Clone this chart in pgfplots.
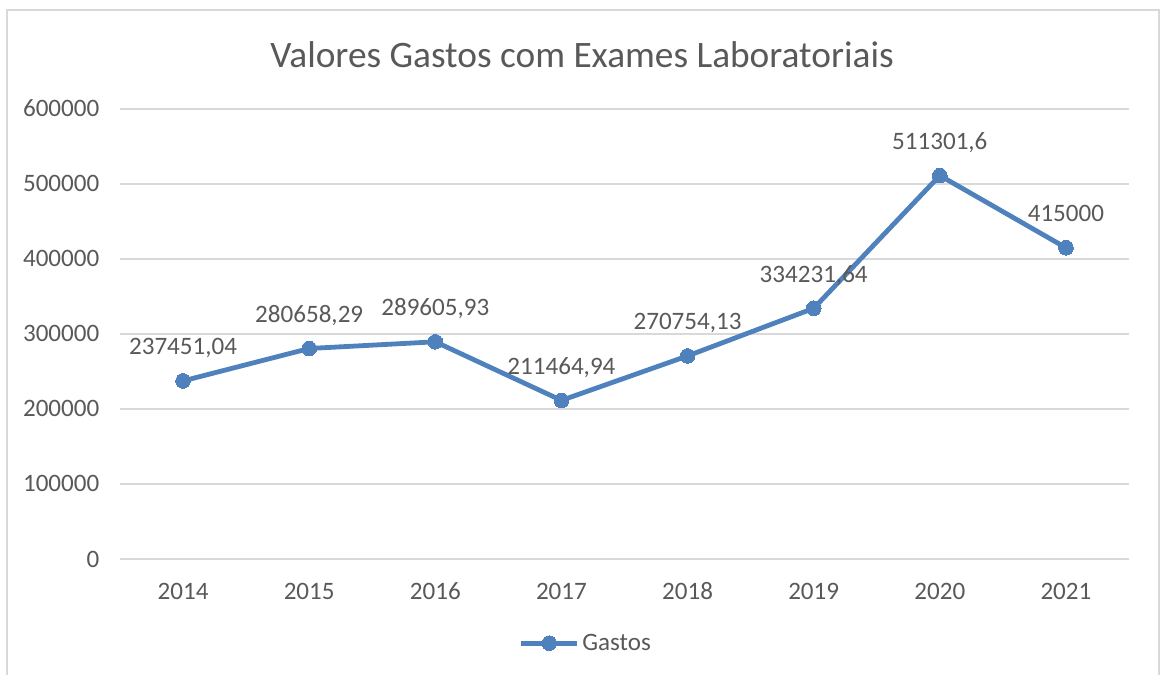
\documentclass[border=0pt]{standalone}
\usepackage{pgfplots}
\pgfplotsset{compat=1.18}
\usepackage{pgfplotstable}
\usepackage{fontspec}
\setmainfont{Carlito}
\definecolor{txt}{HTML}{595959}
\definecolor{gridc}{HTML}{D9D9D9}
\definecolor{linec}{HTML}{4F81BD}
\pgfplotstableread{
x y lab
0 237451.04 237451,04
1 280658.29 280658,29
2 289605.93 289605,93
3 211464.94 211464,94
4 270754.13 270754,13
5 334231.64 334231,64
6 511301.6 511301,6
7 415000 415000
}\gastos
\begin{document}
\begin{tikzpicture}
\path[use as bounding box] (0,0) rectangle (874.5pt,505.5pt);
\draw[gridc, line width=1.2pt] (7*0.75pt,-2pt) -- (7*0.75pt,664*0.75pt) -- (1159*0.75pt,664*0.75pt) -- (1159*0.75pt,-2pt);
\node[txt, font=\fontsize{28}{30}\selectfont] at (582*0.75pt, 619*0.75pt) {Valores Gastos com Exames Laboratoriais};
\begin{axis}[
  at={(90pt,86.25pt)}, anchor=south west,
  scale only axis, width=756.75pt, height=337.5pt,
  xmin=-0.5, xmax=7.5, ymin=0, ymax=600000,
  xtick={0,...,7}, xticklabels={2014,2015,2016,2017,2018,2019,2020,2021},
  ytick={0,100000,...,600000},
  scaled y ticks=false,
  yticklabel={\pgfmathprintnumber[fixed,1000 sep={}]{\tick}},
  /pgf/number format/assume math mode=true,
  axis line style={draw=none},
  major tick length=0pt,
  xmajorgrids=false, ymajorgrids=true,
  y grid style={gridc, line width=1.2pt},
  tick label style={txt, font=\fontsize{18.8}{20}\selectfont},
  xticklabel style={anchor=base, yshift=-30.5pt},
  yticklabel style={anchor=base east, xshift=-12pt, yshift=-6pt},
  clip=false,
  legend style={at={(0.462,-0.187)}, anchor=center, draw=none, fill=none,
    font=\fontsize{18.8}{20}\selectfont, text=txt, inner sep=0pt,
    /tikz/every even column/.append style={column sep=0pt}},
  legend image code/.code={\draw[#1, mark repeat=2, mark phase=2] plot coordinates {(0pt,0pt) (21pt,0pt) (42pt,0pt)};},
]
\addplot[linec, line width=3.6pt, mark=*, mark size=5.5pt, mark options={linec, line width=0pt},
  nodes near coords, point meta=explicit symbolic,
  every node near coord/.append style={txt, anchor=base, yshift=19.5pt, font=\fontsize{18.8}{20}\selectfont}]
  table[x=x, y=y, meta=lab] {\gastos};
\addlegendentry{Gastos}
\end{axis}
\end{tikzpicture}
\end{document}
